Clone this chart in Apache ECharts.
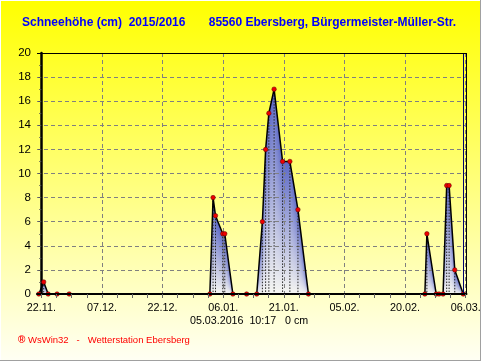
<!DOCTYPE html>
<html><head><meta charset="utf-8">
<style>html,body{margin:0;padding:0;background:#fff}#c{width:481px;height:361px}</style>
<script src="https://cdn.jsdelivr.net/npm/echarts@6/dist/echarts.min.js"></script></head>
<body><div id="c"></div>
<script>
const tickLabels=['22.11.','07.12.','22.12.','06.01.','21.01.','05.02.','20.02.','06.03.'];
const tickDays=[0,15,30,45,60,75,90,105];
const minorTickDays=[0,3.75,7.5,11.25,15,18.75,22.5,26.25,30,33.75,37.5,41.25,45,48.75,52.5,56.25,60,63.75,67.5,71.25,75,78.75,82.5,86.25,90,93.75,97.5,101.25,105];
const pointDays=[-0.6,0.6,1.7,3.9,6.9,41.7,42.5,43.1,44.9,45.4,47.4,50.8,53.3,54.7,55.5,56.3,57.6,59.7,61.5,63.5,66.1,94.9,95.4,97.7,98.4,99.4,100.3,100.9,102.3,104.4];
const pointValues=[0,1,0,0,0,0,8,6.5,5,5,0,0,0,6,12,15,17,11,11,7,0,0,5,0,0,0,9,9,2,0];
const title='Schneehöhe (cm)  2015/2016       85560 Ebersberg, Bürgermeister-Müller-Str.';
const stamp='05.03.2016  10:17   0 cm';
const footer='WsWin32   -   Wetterstation Ebersberg';
const seriesData=pointDays.map((d,i)=>[d,pointValues[i]]);
const chart=echarts.init(document.getElementById('c'),null,{renderer:'canvas'});
const fontS='"Liberation Sans",Arial,sans-serif';
const xMin=-1.06,xMax=105.2,gridC='#808080';
const colGrad=new echarts.graphic.LinearGradient(0,0,0,1,[{offset:0,color:'#5d69c6'},{offset:1,color:'#f6f6f2'}]);
chart.setOption({
 animation:false,
 backgroundColor:new echarts.graphic.LinearGradient(0,0,0,1,[{offset:0,color:'#ffff00'},{offset:1,color:'#fffff4'}]),
 graphic:[
  {type:'text',left:22,top:17,style:{text:title,fill:'#0000ff',font:'bold 12px '+fontS}},
  {type:'text',left:190,top:316,style:{text:stamp,fill:'#000',font:'10.7px '+fontS}},
  {type:'text',left:28,top:335,style:{text:footer,fill:'#ff0000',font:'9.5px '+fontS}},
  {type:'text',left:18,top:335,style:{text:'®',fill:'#ff0000',font:'bold 10px '+fontS}},
  {type:'rect',left:0,top:0,shape:{width:481,height:1},style:{fill:'#ffffff'}},
  {type:'rect',left:0,top:0,shape:{width:1,height:361},style:{fill:'#ffffff'}},
  {type:'rect',left:480,top:0,shape:{width:1,height:361},style:{fill:'#a0a0a0'}},
  {type:'rect',left:0,top:360,shape:{width:481,height:1},style:{fill:'#a0a0a0'}}
 ],
 grid:{left:37,right:14.5,top:53,bottom:67,show:false,outerBoundsMode:'none'},
 xAxis:[{type:'value',min:xMin,max:xMax,z:3,
  axisLine:{show:false,onZero:false},
  axisTick:{show:false,customValues:tickDays},
  axisLabel:{show:true,customValues:tickDays,color:'#000',fontFamily:fontS,fontSize:10.8,margin:9,
    formatter:v=>tickLabels[tickDays.indexOf(v)]||''},
  splitLine:{show:true,lineStyle:{color:gridC,type:[4,3],width:1}}
 },{type:'value',min:xMin,max:xMax,z:5,position:'bottom',
  axisLine:{show:true,onZero:false,lineStyle:{color:'#000',width:2}},
  axisTick:{show:true,customValues:minorTickDays,length:4,lineStyle:{color:'#666'}},
  axisLabel:{show:false},splitLine:{show:false}
 }],
 yAxis:{type:'value',min:0,max:20,interval:2,z:3,
  axisLine:{show:true,lineStyle:{color:'#000',width:2.5}},
  axisTick:{show:true,length:3,lineStyle:{color:'#555'}},
  minorTick:{show:true,splitNumber:2,length:2,lineStyle:{color:'#555'}},
  axisLabel:{color:'#000',fontFamily:fontS,fontSize:11.5,margin:6},
  splitLine:{show:true,lineStyle:{color:gridC,type:[4,3],width:1}}
 },
 series:[
  {type:'custom',coordinateSystem:'cartesian2d',silent:true,z:2,clip:true,
   data:seriesData,encode:{x:0,y:1},
   renderItem(p,api){
    const i=p.dataIndex;
    if(i>=seriesData.length-1)return null;
    const a=api.coord(seriesData[i]),b=api.coord(seriesData[i+1]),y0=api.coord([0,0])[1];
    if(pointValues[i]===0&&pointValues[i+1]===0)return null;
    const kids=[];
    for(let x=Math.floor(a[0]);x<b[0];x++){
      const t=Math.min(1,Math.max(0,(x+0.5-a[0])/(b[0]-a[0])));
      const yt=a[1]+(b[1]-a[1])*t;
      if(y0-yt<0.5)continue;
      kids.push({type:'rect',shape:{x,y:yt,width:1,height:y0-yt},style:{fill:colGrad}});
    }
    return {type:'group',children:kids};
   }},
  {type:'custom',coordinateSystem:'cartesian2d',silent:true,z:3,clip:false,
   data:seriesData,encode:{x:0,y:1},
   renderItem(p,api){
    const a=api.coord([api.value(0),api.value(1)]);const b=api.coord([api.value(0),0]);
    return {type:'line',shape:{x1:a[0],y1:a[1],x2:b[0],y2:b[1]},style:{stroke:'#222',lineWidth:1,lineDash:[1.5,1.5]}};
   }},
  {type:'line',data:seriesData,z:4,symbol:'circle',symbolSize:4.5,
   itemStyle:{color:'#ee0000',borderColor:'#550000',borderWidth:0.5},
   lineStyle:{color:'#000',width:1.5},
   markLine:{silent:true,symbol:'none',label:{show:false},animation:false,
    data:[{xAxis:104.4,lineStyle:{color:'#000070',type:'solid',width:1}},
          {xAxis:xMax,lineStyle:{color:'#000',type:'solid',width:1}},
          {yAxis:20,lineStyle:{color:'#000',type:'solid',width:1.2}}]}
  }
 ]
});
</script></body></html>
